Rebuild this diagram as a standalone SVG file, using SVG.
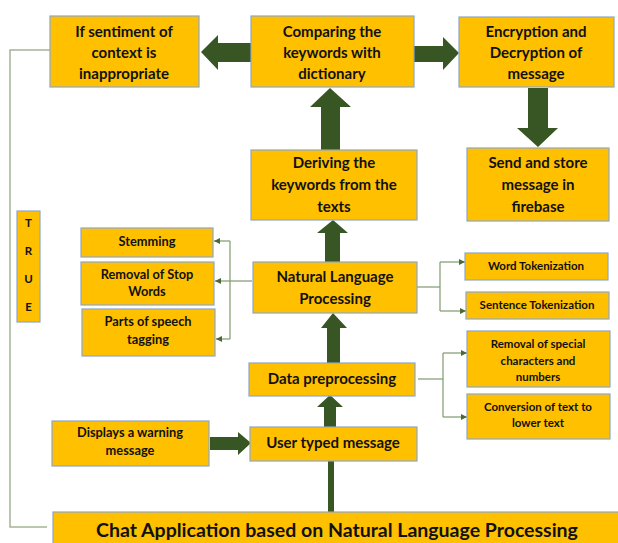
<svg xmlns="http://www.w3.org/2000/svg" width="618" height="543" viewBox="0 0 618 543">
<defs>
<style>
.box{fill:#FFC000;stroke:#8ea6c8;stroke-width:1.2}
.arr{fill:#375623}
.ln{fill:none;stroke:#7f9a6e;stroke-width:1.2}
.br{fill:none;stroke:#a3b497;stroke-width:1.5}
text{font-family:Lato,"Open Sans","Liberation Sans",sans-serif;font-weight:bold;fill:#111111;text-anchor:middle}
.t14{font-size:15px}
.t12{font-size:12.8px}
.t11{font-size:11.5px}
.t10{font-size:11.5px}
.t19{font-size:19.5px}
</style>
<marker id="ah" viewBox="0 0 10 10" refX="10" refY="5" markerWidth="5" markerHeight="5" orient="auto">
<path d="M0,0 L10,5 L0,10 z" fill="#4a6b35"/>
</marker>
</defs>
<rect width="618" height="543" fill="#ffffff"/>

<g id="connectors">
<polyline class="br" points="50,50 10,50 10,527 47,527"/>
<polygon class="arr" points="251,43 218,43 218,35 201,52 218,70 218,62 251,62"/>
<polygon class="arr" points="414,46 443,46 443,37 459,53 443,70 443,62 414,62"/>
<polygon class="arr" points="528,88 548,88 548,128 558,128 538,147 517,128 528,128"/>
<polygon class="arr" points="321,150 340,150 340,107 351,107 330,88 310,107 321,107"/>
<polygon class="arr" points="325,262 340,262 340,233 348,233 333,220 317,233 325,233"/>
<polygon class="arr" points="327,363 340,363 340,328 347,328 333,313 321,328 327,328"/>
<polygon class="arr" points="324,427 336,427 336,407 343,407 330,395 317,407 324,407"/>
<rect class="arr" x="328" y="461" width="6" height="51"/>
<polygon class="arr" points="210,437 238,437 238,432 251,443 238,455 238,450 210,450"/>
<polyline class="ln" points="252,281 230,281"/>
<polyline class="ln" points="230,241 230,339"/>
<line class="ln" x1="230" y1="241" x2="214" y2="241" marker-end="url(#ah)"/>
<line class="ln" x1="230" y1="281" x2="215" y2="281" marker-end="url(#ah)"/>
<line class="ln" x1="230" y1="339" x2="216" y2="339" marker-end="url(#ah)"/>
<polyline class="ln" points="417,287 440,287"/>
<polyline class="ln" points="440,262 440,311"/>
<line class="ln" x1="440" y1="262" x2="465" y2="262" marker-end="url(#ah)"/>
<line class="ln" x1="440" y1="311" x2="466" y2="311" marker-end="url(#ah)"/>
<polyline class="ln" points="418,379 443,379"/>
<polyline class="ln" points="443,353 443,417"/>
<line class="ln" x1="443" y1="353" x2="467" y2="353" marker-end="url(#ah)"/>
<line class="ln" x1="443" y1="417" x2="467" y2="417" marker-end="url(#ah)"/>
</g>

<g id="sentiment">
<rect class="box" x="50" y="16" width="149" height="71"/>
<text class="t14" x="124" y="37">If sentiment of</text>
<text class="t14" x="124" y="58">context is</text>
<text class="t14" x="124" y="79">inappropriate</text>
</g>
<g id="comparing">
<rect class="box" x="251" y="16" width="163" height="71"/>
<text class="t14" x="332" y="37">Comparing the</text>
<text class="t14" x="332" y="58">keywords with</text>
<text class="t14" x="332" y="79">dictionary</text>
</g>
<g id="encryption">
<rect class="box" x="459" y="17" width="155" height="70"/>
<text class="t14" x="536" y="37">Encryption and</text>
<text class="t14" x="536" y="58">Decryption of</text>
<text class="t14" x="536" y="79">message</text>
</g>
<g id="send">
<rect class="box" x="467" y="148" width="142" height="73"/>
<text class="t14" x="538" y="168">Send and store</text>
<text class="t14" x="538" y="190">message in</text>
<text class="t14" x="538" y="212">firebase</text>
</g>
<g id="deriving">
<rect class="box" x="251" y="150" width="166" height="70"/>
<text class="t14" x="334" y="168">Deriving the</text>
<text class="t14" x="334" y="190">keywords from the</text>
<text class="t14" x="334" y="212">texts</text>
</g>
<g id="true">
<rect class="box" x="17" y="211" width="23" height="111"/>
<text class="t11" x="28.5" y="227">T</text>
<text class="t11" x="28.5" y="255">R</text>
<text class="t11" x="28.5" y="283">U</text>
<text class="t11" x="28.5" y="311">E</text>
</g>
<g id="stemming">
<rect class="box" x="81" y="228" width="132" height="29"/>
<text class="t12" x="147" y="246">Stemming</text>
</g>
<g id="stopwords">
<rect class="box" x="81" y="262" width="133" height="43"/>
<text class="t12" x="147" y="279">Removal of Stop</text>
<text class="t12" x="147" y="296">Words</text>
</g>
<g id="pos">
<rect class="box" x="82" y="309" width="133" height="47"/>
<text class="t12" x="148" y="326">Parts of speech</text>
<text class="t12" x="148" y="344">tagging</text>
</g>
<g id="nlp">
<rect class="box" x="253" y="262" width="164" height="51"/>
<text class="t14" x="335" y="282">Natural Language</text>
<text class="t14" x="335" y="304">Processing</text>
</g>
<g id="wordtok">
<rect class="box" x="465" y="253" width="143" height="27"/>
<text class="t11" x="536" y="270">Word Tokenization</text>
</g>
<g id="senttok">
<rect class="box" x="466" y="292" width="143" height="27"/>
<text class="t11" x="537" y="309">Sentence Tokenization</text>
</g>
<g id="special">
<rect class="box" x="467" y="331" width="143" height="56"/>
<text class="t10" x="538" y="348">Removal of special</text>
<text class="t10" x="538" y="365">characters and</text>
<text class="t10" x="538" y="381">numbers</text>
</g>
<g id="lower">
<rect class="box" x="467" y="394" width="143" height="45"/>
<text class="t10" x="538" y="411">Conversion of text to</text>
<text class="t10" x="538" y="427">lower text</text>
</g>
<g id="datapre">
<rect class="box" x="249" y="363" width="166" height="33"/>
<text class="t14" x="332" y="384">Data preprocessing</text>
</g>
<g id="warning">
<rect class="box" x="52" y="421" width="157" height="45"/>
<text class="t12" x="130" y="437">Displays a warning</text>
<text class="t12" x="130" y="455">message</text>
</g>
<g id="usertyped">
<rect class="box" x="250" y="427" width="167" height="34"/>
<text class="t14" x="333" y="448">User typed message</text>
</g>
<g id="chat">
<rect class="box" x="53" y="512" width="570" height="40"/>
<text class="t19" x="337" y="537">Chat Application based on Natural Language Processing</text>
</g>
</svg>
